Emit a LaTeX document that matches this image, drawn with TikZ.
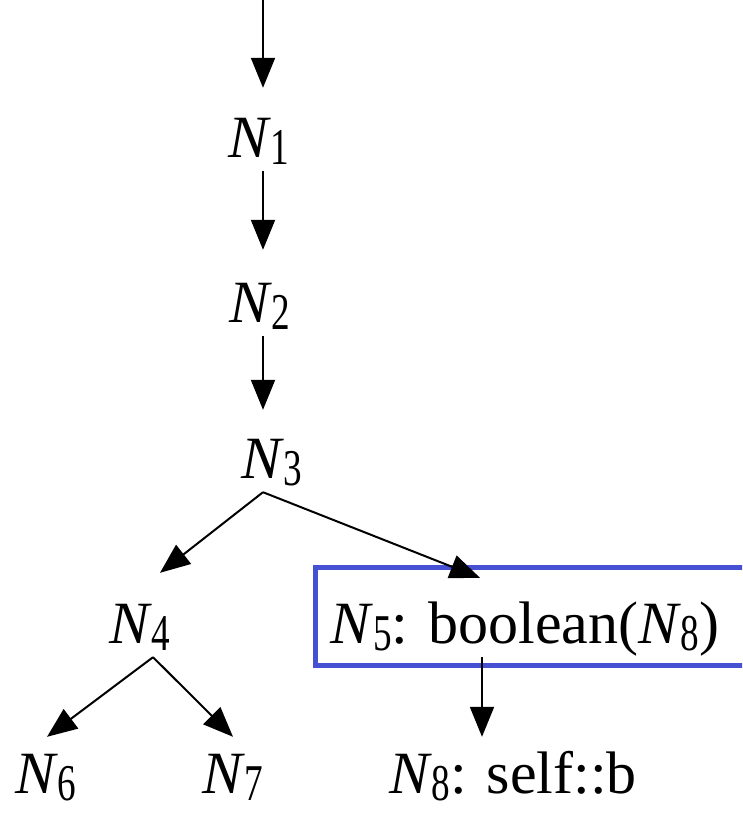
\documentclass[tikz,border=0pt]{standalone}
\usepackage{fontspec}
\setmainfont{Liberation Serif}
\usetikzlibrary{arrows.meta, calc}
\definecolor{cBox}{RGB}{70,80,210}
\newcommand{\Nsub}[1]{\textit{N}\kern-0.5pt\raisebox{-7pt}{\scalebox{0.62}[0.86]{#1}}}
\tikzset{
	lbl/.style   ={inner sep=0pt, anchor=base, text height=44pt, text depth=14pt},
	edge/.style  ={-{Triangle[length=30pt, width=24pt]}, line width=2pt},
	hlbox/.style ={draw=cBox, line width=5pt},
}
\begin{document}
\begin{tikzpicture}[x=1pt, y=-1pt, font=\fontsize{60}{66}\selectfont]
	\useasboundingbox (0,0) rectangle (742,817);
	\clip (0,0) rectangle (742,817);
	\coordinate (top) at (263,0);
	\node[lbl] (n1) at (259,157) {\Nsub{1}};
	\node[lbl] (n2) at (260,322) {\Nsub{2}};
	\node[lbl] (n3) at (272,478) {\Nsub{3}};
	\node[lbl] (n4) at (140,643) {\Nsub{4}};
	\node[lbl] (n5) at (525,643) {\Nsub{5}: boolean(\Nsub{8})};
	\node[lbl] (n6) at (46,793) {\Nsub{6}};
	\node[lbl] (n7) at (233,793) {\Nsub{7}};
	\node[lbl] (n8) at (513,793) {\Nsub{8}: self::b};
	% highlighted node, open to the right (cut by the page edge)
	\draw[hlbox] ([shift={(290,-76)}]n5.base) -| ([shift={(-210,22)}]n5.base) -- ++(500,0);
	% chain
	\draw[edge] (top) -- ([shift={(4,-25)}]n1.north);
	\draw[edge] ([xshift=4]n1.south) -- ([shift={(3,-28)}]n2.north);
	\draw[edge] ([xshift=3]n2.south) -- ([shift={(-9,-24)}]n3.north);
	% branches
	\draw[edge] ([xshift=-9]n3.south) -- ([shift={(20,-26)}]n4.north);
	\draw[edge] ([xshift=-9]n3.south) -- ([shift={(-45,-21)}]n5.north);
	\draw[edge] ([xshift=13]n4.south) -- ([shift={(1,-12)}]n6.north);
	\draw[edge] ([xshift=13]n4.south) -- ([shift={(0,-12)}]n7.north);
	\draw[edge] ([xshift=-43]n5.south) -- ([shift={(-31,-12)}]n8.north);
\end{tikzpicture}
\end{document}
